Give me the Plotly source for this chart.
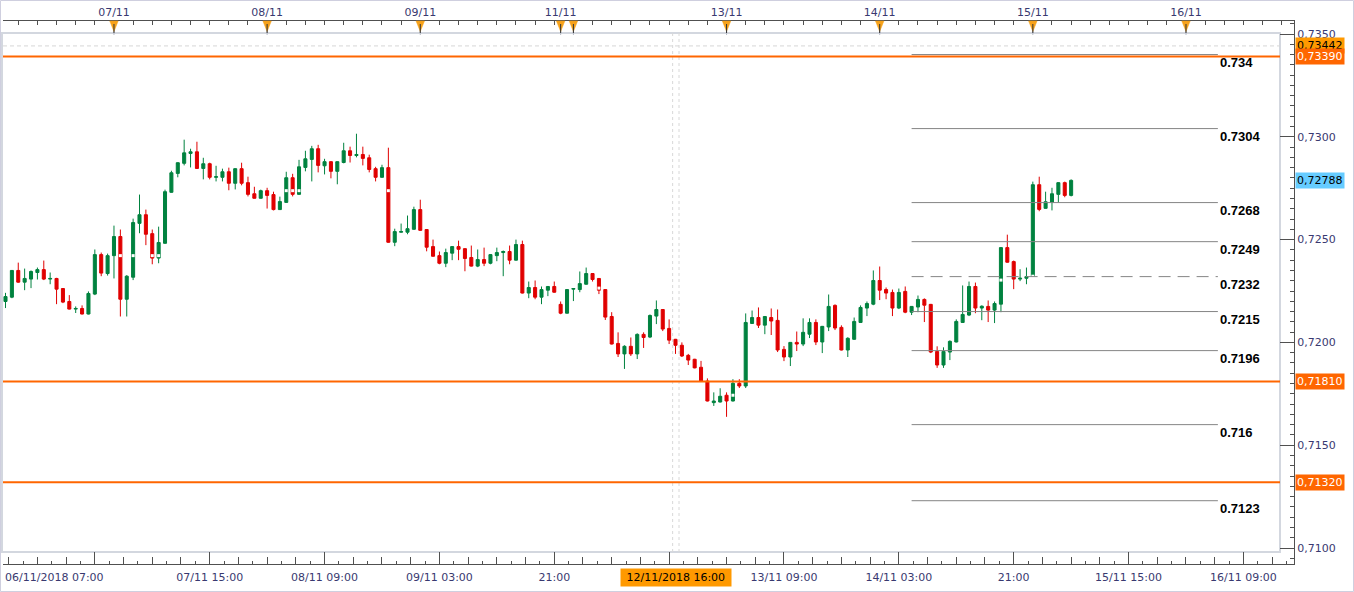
import plotly.graph_objects as go

# ------------------------------------------------------------------ data
# hourly AUD/USD bars, 06/11/2018 07:00 -> 15/11/2018 06:00 (weekend removed)
open_ = [0.72199, 0.72220, 0.72350, 0.72293, 0.72308, 0.72340, 0.72354, 0.72308, 0.72311, 0.72262,
         0.72199, 0.72162, 0.72165, 0.72138, 0.72235, 0.72427, 0.72335, 0.72422, 0.72515, 0.72210,
         0.72317, 0.72579, 0.72621, 0.72529, 0.72410, 0.72482, 0.72730, 0.72822, 0.72871, 0.72919,
         0.72927, 0.72846, 0.72869, 0.72803, 0.72803, 0.72830, 0.72774, 0.72845, 0.72777, 0.72723,
         0.72701, 0.72738, 0.72719, 0.72646, 0.72681, 0.72801, 0.72720, 0.72851, 0.72890, 0.72942,
         0.72859, 0.72879, 0.72832, 0.72875, 0.72932, 0.72909, 0.72914, 0.72898, 0.72845, 0.72803,
         0.72850, 0.72487, 0.72536, 0.72536, 0.72550, 0.72646, 0.72549, 0.72466, 0.72422, 0.72385,
         0.72434, 0.72466, 0.72456, 0.72413, 0.72371, 0.72403, 0.72385, 0.72422, 0.72437, 0.72442,
         0.72400, 0.72476, 0.72240, 0.72267, 0.72220, 0.72254, 0.72272, 0.72185, 0.72142, 0.72259,
         0.72257, 0.72283, 0.72335, 0.72311, 0.72257, 0.72126, 0.71995, 0.71944, 0.71981, 0.71944,
         0.72039, 0.72026, 0.72128, 0.72160, 0.72068, 0.72015, 0.71986, 0.71937, 0.71918, 0.71879,
         0.71812, 0.71707, 0.71710, 0.71743, 0.71715, 0.71801, 0.71788, 0.72092, 0.72121, 0.72084,
         0.72121, 0.72107, 0.71966, 0.71929, 0.72000, 0.71992, 0.72040, 0.72097, 0.72002, 0.72075,
         0.72180, 0.72073, 0.71963, 0.72015, 0.72097, 0.72167, 0.72186, 0.72301, 0.72257, 0.72243,
         0.72167, 0.72248, 0.72147, 0.72172, 0.72209, 0.72185, 0.71956, 0.71890, 0.71953, 0.72002,
         0.72097, 0.72133, 0.72272, 0.72167, 0.72175, 0.72157, 0.72186, 0.72461, 0.72393, 0.72308,
         0.72312, 0.72322, 0.72767, 0.72652, 0.72681, 0.72720, 0.72777, 0.72715]
high = [0.72241, 0.72352, 0.72388, 0.72359, 0.72350, 0.72364, 0.72398, 0.72340, 0.72314, 0.72264,
        0.72230, 0.72175, 0.72180, 0.72248, 0.72452, 0.72437, 0.72432, 0.72568, 0.72549, 0.72327,
        0.72602, 0.72719, 0.72646, 0.72549, 0.72563, 0.72743, 0.72835, 0.72876, 0.72986, 0.72942,
        0.72976, 0.72898, 0.72874, 0.72859, 0.72845, 0.72850, 0.72847, 0.72874, 0.72806, 0.72757,
        0.72743, 0.72752, 0.72733, 0.72709, 0.72830, 0.72820, 0.72888, 0.72932, 0.72956, 0.72961,
        0.72893, 0.72881, 0.72881, 0.72971, 0.72952, 0.73015, 0.72952, 0.72913, 0.72854, 0.72864,
        0.72947, 0.72553, 0.72578, 0.72617, 0.72660, 0.72694, 0.72550, 0.72500, 0.72442, 0.72456,
        0.72468, 0.72495, 0.72458, 0.72471, 0.72452, 0.72461, 0.72429, 0.72461, 0.72447, 0.72471,
        0.72500, 0.72495, 0.72296, 0.72301, 0.72272, 0.72274, 0.72296, 0.72199, 0.72259, 0.72264,
        0.72345, 0.72364, 0.72337, 0.72313, 0.72259, 0.72147, 0.72049, 0.71986, 0.72024, 0.72044,
        0.72049, 0.72136, 0.72204, 0.72162, 0.72112, 0.72017, 0.72000, 0.71944, 0.71920, 0.71910,
        0.71825, 0.71757, 0.71777, 0.71757, 0.71821, 0.71821, 0.72141, 0.72155, 0.72170, 0.72128,
        0.72165, 0.72160, 0.71982, 0.72002, 0.72053, 0.72117, 0.72117, 0.72112, 0.72080, 0.72233,
        0.72185, 0.72083, 0.72025, 0.72121, 0.72180, 0.72199, 0.72350, 0.72369, 0.72267, 0.72257,
        0.72262, 0.72272, 0.72177, 0.72228, 0.72214, 0.72187, 0.71981, 0.71976, 0.72010, 0.72112,
        0.72277, 0.72296, 0.72291, 0.72180, 0.72204, 0.72199, 0.72463, 0.72524, 0.72398, 0.72356,
        0.72364, 0.72782, 0.72806, 0.72733, 0.72752, 0.72779, 0.72782, 0.72793]
low = [0.72167, 0.72215, 0.72290, 0.72254, 0.72264, 0.72306, 0.72303, 0.72283, 0.72186, 0.72191,
       0.72160, 0.72143, 0.72136, 0.72136, 0.72230, 0.72322, 0.72325, 0.72311, 0.72126, 0.72126,
       0.72303, 0.72531, 0.72473, 0.72380, 0.72385, 0.72480, 0.72728, 0.72803, 0.72861, 0.72851,
       0.72845, 0.72793, 0.72793, 0.72783, 0.72783, 0.72740, 0.72744, 0.72764, 0.72710, 0.72700,
       0.72700, 0.72651, 0.72642, 0.72644, 0.72680, 0.72710, 0.72718, 0.72832, 0.72783, 0.72827,
       0.72817, 0.72798, 0.72769, 0.72871, 0.72875, 0.72900, 0.72861, 0.72827, 0.72783, 0.72801,
       0.72485, 0.72468, 0.72534, 0.72526, 0.72548, 0.72543, 0.72443, 0.72417, 0.72380, 0.72366,
       0.72400, 0.72400, 0.72346, 0.72369, 0.72366, 0.72371, 0.72380, 0.72395, 0.72322, 0.72380,
       0.72398, 0.72238, 0.72215, 0.72210, 0.72186, 0.72225, 0.72242, 0.72137, 0.72140, 0.72201,
       0.72244, 0.72281, 0.72296, 0.72235, 0.72109, 0.71990, 0.71929, 0.71871, 0.71934, 0.71919,
       0.71973, 0.72021, 0.72089, 0.72055, 0.71992, 0.71944, 0.71929, 0.71890, 0.71874, 0.71810,
       0.71713, 0.71691, 0.71708, 0.71638, 0.71713, 0.71778, 0.71778, 0.72090, 0.72070, 0.72040,
       0.72036, 0.71953, 0.71909, 0.71885, 0.71958, 0.71982, 0.72021, 0.71987, 0.71948, 0.72055,
       0.72060, 0.71961, 0.71929, 0.72013, 0.72095, 0.72128, 0.72181, 0.72206, 0.72210, 0.72128,
       0.72162, 0.72142, 0.72133, 0.72147, 0.72099, 0.71948, 0.71876, 0.71876, 0.71914, 0.72000,
       0.72095, 0.72128, 0.72142, 0.72108, 0.72099, 0.72094, 0.72147, 0.72388, 0.72259, 0.72298,
       0.72283, 0.72320, 0.72638, 0.72650, 0.72642, 0.72681, 0.72706, 0.72710]
close = [0.72223, 0.72350, 0.72293, 0.72311, 0.72345, 0.72354, 0.72308, 0.72311, 0.72259, 0.72196,
         0.72162, 0.72165, 0.72138, 0.72238, 0.72427, 0.72337, 0.72422, 0.72515, 0.72210, 0.72322,
         0.72583, 0.72621, 0.72526, 0.72410, 0.72486, 0.72733, 0.72825, 0.72874, 0.72922, 0.72927,
         0.72846, 0.72869, 0.72803, 0.72806, 0.72830, 0.72774, 0.72845, 0.72774, 0.72720, 0.72701,
         0.72738, 0.72715, 0.72646, 0.72685, 0.72801, 0.72720, 0.72854, 0.72893, 0.72942, 0.72861,
         0.72879, 0.72832, 0.72879, 0.72932, 0.72909, 0.72914, 0.72895, 0.72841, 0.72803, 0.72850,
         0.72487, 0.72539, 0.72539, 0.72553, 0.72646, 0.72545, 0.72463, 0.72419, 0.72385, 0.72437,
         0.72466, 0.72453, 0.72408, 0.72371, 0.72403, 0.72385, 0.72427, 0.72437, 0.72442, 0.72400,
         0.72476, 0.72240, 0.72267, 0.72220, 0.72257, 0.72272, 0.72244, 0.72142, 0.72257, 0.72262,
         0.72286, 0.72335, 0.72306, 0.72254, 0.72123, 0.71992, 0.71944, 0.71981, 0.71944, 0.72039,
         0.72024, 0.72131, 0.72160, 0.72065, 0.72011, 0.71986, 0.71934, 0.71914, 0.71876, 0.71812,
         0.71715, 0.71715, 0.71738, 0.71715, 0.71801, 0.71788, 0.72097, 0.72121, 0.72084, 0.72126,
         0.72104, 0.71963, 0.71929, 0.72000, 0.71992, 0.72049, 0.72097, 0.72002, 0.72078, 0.72175,
         0.72070, 0.71963, 0.72020, 0.72102, 0.72170, 0.72189, 0.72301, 0.72254, 0.72240, 0.72167,
         0.72243, 0.72147, 0.72175, 0.72209, 0.72181, 0.71953, 0.71890, 0.71956, 0.72005, 0.72102,
         0.72136, 0.72272, 0.72167, 0.72176, 0.72157, 0.72189, 0.72461, 0.72390, 0.72308, 0.72312,
         0.72320, 0.72767, 0.72647, 0.72684, 0.72723, 0.72777, 0.72715, 0.72788]
bar_index = list(range(len(open_)))

# grey retracement levels (drawn from bar 142 to bar 190)
levels = [0.7340, 0.7304, 0.7268, 0.7249, 0.7232, 0.7215, 0.7196, 0.7160, 0.7123]
level_labels = ["0.734", "0.7304", "0.7268", "0.7249", "0.7232", "0.7215", "0.7196", "0.716", "0.7123"]
level_dashed = [False, False, False, False, True, False, False, False, False]
level_from, level_to = 142, 190

# orange support / resistance lines
orange_levels = [0.7339, 0.7181, 0.7132]
orange_labels = ["0,73390", "0,71810", "0,71320"]
ask_level, ask_label = 0.73442, "0,73442"
last_level, last_label = 0.72788, "0,72788"

# event dots on candles
dot_idx = [18, 20, 23, 24, 44, 45, 46, 60, 93, 114, 156, 161]
dot_price = [0.72422, 0.72422, 0.72422, 0.72422, 0.72738, 0.72738, 0.72738, 0.72738,
             0.72264, 0.71743, 0.72303, 0.72322]

# axis labels
bottom_tick_idx = [14, 32, 50, 68, 86, 104, 122, 140, 158, 176, 194]
bottom_tick_text = ["", "07/11 15:00", "08/11 09:00", "09/11 03:00", "21:00", "",
                    "13/11 09:00", "14/11 03:00", "21:00", "15/11 15:00", "16/11 09:00"]
first_label = "06/11/2018 07:00"
cross_idx, cross_label = 105, "12/11/2018 16:00"
day_idx = [17, 41, 65, 87, 89, 113, 137, 161, 185]
day_text = ["07/11", "08/11", "09/11", "11/11", "", "13/11", "14/11", "15/11", "16/11"]

# ------------------------------------------------------------------ layout constants
W, H = 1354, 592
ML, MR, MT, MB = 3, 60, 21, 28
PX0, PPB = 5.5, 6.381          # pixel of bar 0, pixels per bar
PY_REF, P_REF, PPU = 34, 0.7350, 20560.0
PW, PH = W - ML - MR, H - MT - MB

x_range = [(ML - PX0) / PPB, (W - MR - PX0) / PPB]
y_range = [P_REF - (H - MB - PY_REF) / PPU, P_REF + (PY_REF - MT) / PPU]


def pxx(px):
    return (px - ML) / PW


def pyy(py):
    return (H - MB - py) / PH


GREEN, RED = "#00823F", "#E00000"
ORANGE = "#FF6600"
TXT = "#393970"
AXC = "#505050"
FONT = "DejaVu Sans"

fig = go.Figure()
fig.add_trace(go.Candlestick(
    x=bar_index, open=open_, high=high, low=low, close=close,
    increasing=dict(line=dict(color=GREEN, width=1), fillcolor=GREEN),
    decreasing=dict(line=dict(color=RED, width=1), fillcolor=RED),
    whiskerwidth=0, hoverinfo="skip", showlegend=False))
fig.add_trace(go.Scatter(
    x=dot_idx, y=dot_price, mode="markers", hoverinfo="skip", showlegend=False,
    marker=dict(symbol="square", size=3, color="white", line=dict(width=0))))
# empty traces so that the overlay axes (top date strip, short ticks) are drawn
fig.add_trace(go.Scatter(x=[], y=[], xaxis="x2", yaxis="y", hoverinfo="skip", showlegend=False))
fig.add_trace(go.Scatter(x=[], y=[], xaxis="x3", yaxis="y", hoverinfo="skip", showlegend=False))

# tick positions
major_step = 18
sub = major_step / 8.0
medium_ticks, short_ticks = [], []
for n in range(-8, 90):
    v = bottom_tick_idx[0] + sub * n
    if v < x_range[0] or v > x_range[1] or n % 8 == 0:
        continue
    (medium_ticks if n % 2 == 0 else short_ticks).append(v)
top_vals = [v for v in range(2, int(x_range[1]) + 1, 3)]
top_text = {d: t for d, t in zip(day_idx, day_text)}
top_all = sorted(set(top_vals) | set(day_idx))

fig.update_layout(
    template="none",
    width=W, height=H,
    margin=dict(l=ML, r=MR, t=MT, b=MB, autoexpand=False),
    paper_bgcolor="white", plot_bgcolor="white",
    separators=",.",
    boxgap=0.32,
    showlegend=False,
    font=dict(family=FONT, size=11, color=TXT),
    xaxis=dict(range=x_range, autorange=False, automargin=False, showgrid=False, zeroline=False,
               showline=True, linecolor=AXC, linewidth=1, ticks="inside", ticklen=12,
               tickcolor=AXC, tickwidth=1, tickmode="array", tickvals=bottom_tick_idx,
               ticktext=bottom_tick_text, tickfont=dict(family=FONT, size=11, color=TXT),
               ticklabelstandoff=3,
               minor=dict(tickmode="array", tickvals=medium_ticks, ticks="inside", ticklen=7,
                          tickcolor=AXC, tickwidth=1, showgrid=False),
               rangeslider=dict(visible=False), fixedrange=True),
    xaxis2=dict(range=x_range, autorange=False, automargin=False, overlaying="x", side="top",
                anchor="y", showgrid=False, zeroline=False, showline=True, linecolor=AXC,
                linewidth=1, ticks="inside", ticklen=4, tickcolor=AXC, tickwidth=1,
                tickmode="array", tickvals=top_all,
                ticktext=[top_text.get(v, "") for v in top_all],
                tickfont=dict(family=FONT, size=11, color=TXT), fixedrange=True),
    xaxis3=dict(range=x_range, autorange=False, automargin=False, overlaying="x", side="bottom",
                anchor="y", showgrid=False, zeroline=False, showline=False, ticks="inside",
                ticklen=3, tickcolor=AXC, tickwidth=1, tickmode="array", tickvals=short_ticks,
                showticklabels=False, fixedrange=True),
    yaxis=dict(range=y_range, autorange=False, automargin=False, side="right", showgrid=False,
               zeroline=False, showline=True, linecolor=AXC, linewidth=1, ticks="inside",
               ticklen=14, tickcolor=AXC, tickwidth=1, tick0=0.71, dtick=0.005, tickformat=".4f",
               tickfont=dict(family=FONT, size=11, color=TXT),
               minor=dict(tick0=0.71, dtick=0.0005, ticks="inside", ticklen=4,
                          tickcolor=AXC, tickwidth=1, showgrid=False),
               fixedrange=True),
)

shapes = []
frame_x1 = pxx(1280)
# outer border
shapes.append(dict(type="rect", xref="paper", yref="paper", x0=pxx(0.5), x1=pxx(W - 0.5),
                   y0=pyy(H - 0.5), y1=pyy(0.5), line=dict(color="#CFCFDF", width=1)))
# inner frame
shapes.append(dict(type="rect", xref="paper", yref="paper", x0=pxx(2), x1=frame_x1,
                   y0=pyy(552), y1=pyy(33), line=dict(color="#D3D7DF", width=2), layer="below"))
# crosshair
for dx in (-0.45, 0.55):
    shapes.append(dict(type="line", xref="x", yref="paper", x0=cross_idx + dx, x1=cross_idx + dx,
                       y0=pyy(552), y1=pyy(33), line=dict(color="#D8D8D8", width=1, dash="3px,3px"),
                       layer="below"))
# ask dashed line
shapes.append(dict(type="line", xref="paper", yref="y", x0=0, x1=frame_x1, y0=ask_level,
                   y1=ask_level, line=dict(color="#D6D6D6", width=1, dash="4px,3px")))
# retracement levels
for lv, dsh in zip(levels, level_dashed):
    shapes.append(dict(type="line", xref="x", yref="y", x0=level_from, x1=level_to, y0=lv, y1=lv,
                       line=dict(color="#858585", width=1, dash="12px,7px" if dsh else "solid")))
# orange lines
for lv in orange_levels:
    shapes.append(dict(type="line", xref="paper", yref="y", x0=0, x1=frame_x1, y0=lv, y1=lv,
                       line=dict(color=ORANGE, width=2)))
# day markers on top axis
hw = 4.2 / PPB
for d in day_idx:
    shapes.append(dict(type="line", xref="x", yref="paper", x0=d, x1=d, y0=pyy(35), y1=pyy(21),
                       line=dict(color="#B8BCC8", width=1)))
    shapes.append(dict(type="path", xref="x", yref="paper",
                       path=f"M {d - hw},{pyy(21)} L {d + hw},{pyy(21)} L {d},{pyy(31.5)} Z",
                       fillcolor="#F7A21B", line=dict(color="#F7A21B", width=0.5)))
    shapes.append(dict(type="line", xref="x", yref="paper", x0=d, x1=d, y0=pyy(33), y1=pyy(24),
                       line=dict(color="#333333", width=1)))
fig.update_layout(shapes=shapes)

ann = []
for lv, txt in zip(levels, level_labels):
    ann.append(dict(x=level_to, y=lv, xref="x", yref="y", text=txt, showarrow=False,
                    xanchor="left", yanchor="top", yshift=2,
                    font=dict(family="Liberation Sans", size=13, color="black", weight="bold")))
boxes = [(ask_level, ask_label, "#FF9900", "#000000")]
boxes += [(lv, t, ORANGE, "#FFFFFF") for lv, t in zip(orange_levels, orange_labels)]
boxes += [(last_level, last_label, "#66CCFF", "#000000")]
for lv, txt, bg, fc in boxes:
    ann.append(dict(x=1, y=lv, xref="paper", yref="y", text=txt, showarrow=False,
                    xanchor="left", yanchor="middle", xshift=1, bgcolor=bg, borderpad=1,
                    font=dict(family=FONT, size=11, color=fc)))
ann.append(dict(x=pxx(3), y=0, xref="paper", yref="paper", text=first_label, showarrow=False,
                xanchor="left", yanchor="middle", yshift=-13, font=dict(family=FONT, size=11, color=TXT)))
ann.append(dict(x=cross_idx, y=0, xref="x", yref="paper", text=" " + cross_label + " ",
                showarrow=False, xanchor="center", yanchor="middle", yshift=-13,
                bgcolor="#FF9900", borderpad=2, font=dict(family=FONT, size=11, color="black")))
fig.update_layout(annotations=ann)

fig.write_html(
    "out.html",
    config={"displayModeBar": False},
    post_script=("document.body.style.margin='0';document.body.style.padding='0';"
                 "document.documentElement.style.overflow='hidden';"),
)
